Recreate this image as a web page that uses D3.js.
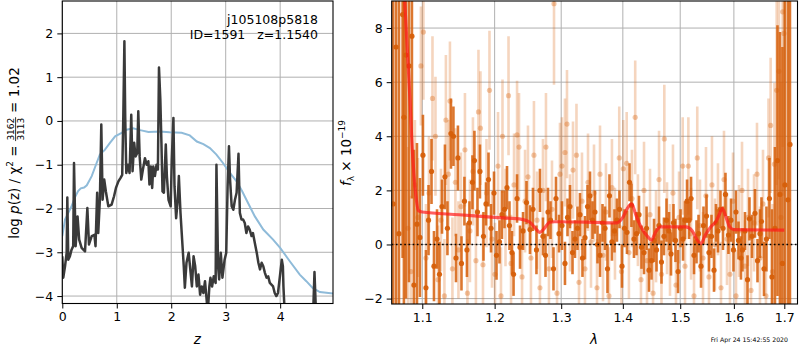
<!DOCTYPE html>
<html>
<head>
<meta charset="utf-8">
<script src="https://cdn.jsdelivr.net/npm/d3@7"></script>
<style>
body{margin:0;background:#fff;}
svg{font-family:"DejaVu Sans",sans-serif;}
</style>
</head>
<body>
<div id="chart"></div>
<script>
// ---- data ----
// left panel: log p(z) (dark jagged line) and the smooth blue curve
const pzLine = [[0,-3.09],[0.018,-3.58],[0.05,-3.32],[0.08,-3.01],[0.092,-1.75],[0.11,-3.17],[0.14,-3.09],[0.17,-2.94],[0.2,-2.86],[0.215,-0.96],
  [0.245,-2.86],[0.28,-2.18],[0.31,-2.71],[0.355,-2.9],[0.417,-2.98],[0.46,-1.99],[0.49,-2.82],[0.54,-2.63],[0.59,-2.6],[0.61,-2.86],
  [0.64,-1.64],[0.66,-2.56],[0.69,-1.8],[0.716,-0.08],[0.74,-1.8],[0.77,-1.34],[0.8,-1.61],[0.845,-1.95],[0.905,-1.91],[0.95,-1.72],
  [0.985,-1.53],[1.03,-1.38],[1.07,-1.3],[1.1,-1.23],[1.12,0.1],[1.14,1.82],[1.155,0.1],[1.175,-1.19],[1.205,-1.0],[1.235,-1.19],
  [1.266,0.14],[1.29,-1.15],[1.32,-0.5],[1.345,-0.81],[1.376,-0.73],[1.395,0.22],[1.42,-0.81],[1.45,-1.34],[1.48,-1.11],[1.517,-0.85],
  [1.55,-1.0],[1.58,-0.92],[1.6,-1.45],[1.625,-1.04],[1.65,-1.53],[1.67,-1.04],[1.7,-1.26],[1.73,-1.0],[1.755,-1.11],[1.775,1.22],
  [1.8,0.49],[1.82,-0.5],[1.84,-1.61],[1.865,-1.64],[1.9,-0.54],[1.92,-1.26],[1.95,-1.8],[1.99,-1.95],[2.01,-0.88],[2.04,0.07],
  [2.06,-1.49],[2.09,-2.22],[2.12,-1.8],[2.14,-1.26],[2.17,-2.1],[2.2,-2.71],[2.23,-3.32],[2.25,-3.81],[2.28,-3.24],[2.32,-3.01],
  [2.35,-3.39],[2.38,-3.78],[2.41,-3.09],[2.44,-3.32],[2.47,-3.78],[2.5,-3.51],[2.53,-3.97],[2.56,-3.78],[2.59,-3.93],[2.62,-3.66],
  [2.65,-4.08],[2.67,-4.4],[2.7,-3.78],[2.72,-3.58],[2.75,-3.78],[2.78,-3.55],[2.815,-3.7],[2.83,-1.0],[2.86,-3.32],[2.88,-3.62],
  [2.91,-3.01],[2.94,-3.58],[2.98,-3.17],[3.01,-3.01],[3.035,-1.49],[3.06,-0.58],[3.08,-1.34],[3.11,-1.95],[3.14,-2.03],[3.17,-1.8],
  [3.2,-1.64],[3.235,-0.75],[3.26,-2.1],[3.29,-2.25],[3.32,-2.25],[3.35,-2.33],[3.38,-2.56],[3.41,-2.41],[3.44,-2.48],[3.475,-2.63],
  [3.5,-2.56],[3.535,-2.79],[3.57,-3.01],[3.6,-3.24],[3.63,-3.39],[3.66,-3.24],[3.69,-3.32],[3.72,-3.47],[3.75,-3.58],[3.78,-3.55],
  [3.81,-3.7],[3.84,-3.74],[3.87,-3.78],[3.9,-3.93],[3.93,-4.0],[3.96,-3.93],[3.995,-3.55],[4.03,-3.17],[4.05,-3.32],[4.06,-3.78],
  [4.08,-4.3],[4.12,-4.8],[4.3,-5.2],[4.5,-5.0],[4.6,-4.6],[4.63,-3.45],[4.655,-4.3],[4.7,-4.9],[4.97,-5.2]];
const priorLine = [[0,-2.63],[0.05,-2.25],[0.11,-2.1],[0.17,-1.95],[0.23,-1.75],[0.29,-1.6],[0.34,-1.54],[0.4,-1.52],[0.45,-1.47],[0.54,-1.26],
  [0.63,-0.96],[0.69,-0.77],[0.78,-0.66],[0.875,-0.5],[0.97,-0.35],[1.09,-0.27],[1.18,-0.2],[1.3,-0.17],[1.43,-0.21],[1.58,-0.25],
  [1.79,-0.24],[1.97,-0.26],[2.19,-0.27],[2.34,-0.33],[2.47,-0.47],[2.59,-0.53],[2.71,-0.62],[2.83,-0.77],[2.95,-0.96],[3.08,-1.19],
  [3.2,-1.38],[3.3,-1.6],[3.38,-1.8],[3.535,-2.18],[3.69,-2.48],[3.87,-2.71],[4.0,-2.9],[4.18,-3.21],[4.36,-3.51],[4.48,-3.66],
  [4.6,-3.82],[4.73,-3.91],[4.97,-3.94]];
const zTicks = [0,1,2,3,4];
const pTicks = [-4,-3,-2,-1,0,1,2];

// right panel: spectrum points [lambda, flux, error]
const darkSpec = [[1.0620,1.5,11],[1.0658,7.3,10],[1.0696,0.4,12],[1.0743,8.5,9],[1.0760,4.7,10],[1.0786,7.0,9],[1.0825,6.6,8],[1.0864,7.7,6],[1.0890,-1.5,5],[1.0930,0.75,3],
  [1.0969,0.26,2.2],[1.1009,3.3,1.5],[1.1049,-1.6,1.4],[1.1083,0.9,1.3],[1.1123,2.7,1.2],[1.1156,-0.8,1.3],[1.1197,0.2,1.1],[1.1230,-1.1,1.2],[1.1264,1.4,1.0],[1.1304,2.5,1.2],
  [1.1338,0.6,1.0],[1.1386,4.1,1.3],[1.1420,4.0,1.1],[1.1455,-0.5,0.9],[1.1482,3.2,1.2],[1.1531,-0.7,1.0],[1.1572,1.6,0.9],[1.1607,-0.2,1.0],[1.1642,0.8,0.8],[1.1684,2.3,1.0],
  [1.1712,3.1,1.1],[1.1755,1.2,0.9],[1.1790,2.7,1.0],[1.1840,0.3,0.9],[1.1876,1.5,0.8],[1.1912,2.4,1.0],[1.1948,0.6,0.9],[1.1991,1.9,0.8],[1.2027,-0.4,0.9],[1.2070,0.1,0.8],
  [1.2106,1.1,0.9],[1.2143,1.3,0.7],[1.2180,2.1,0.8],[1.2216,0.7,0.9],[1.2253,-0.3,0.8],[1.2276,-1.1,0.8],[1.2328,1.7,0.9],[1.2372,-0.1,0.8],[1.2417,0.5,0.7],[1.2469,1.55,0.8],
  [1.2521,0.55,0.9],[1.2566,1.3,0.8],[1.2619,-0.2,0.9],[1.2672,2.0,0.8],[1.2718,0.3,0.7],[1.2757,-0.4,0.8],[1.2795,1.2,0.9],[1.2834,0.9,0.7],[1.2880,-0.9,0.8],[1.2919,1.7,0.8],
  [1.2966,0.4,0.7],[1.3012,0.7,0.9],[1.3059,-0.7,0.8],[1.3099,1.0,0.7],[1.3138,1.4,0.8],[1.3178,-0.3,0.8],[1.3217,0.2,0.7],[1.3257,0.6,0.8],[1.3297,1.1,0.8],[1.3337,-0.5,0.7],
  [1.3377,0.25,0.8],[1.3418,1.4,0.8],[1.3458,1.8,0.9],[1.3499,0.9,0.7],[1.3539,1.2,0.8],[1.3580,0.0,0.7],[1.3621,-0.4,0.8],[1.3662,0.8,0.7],[1.3703,0.6,0.8],[1.3744,-0.9,0.9],
  [1.3777,1.8,0.8],[1.3818,0.1,0.7],[1.3860,0.5,0.8],[1.3901,0.9,0.8],[1.3944,1.3,0.7],[1.3986,-0.8,0.8],[1.4028,0.6,0.7],[1.4070,0.45,0.8],[1.4113,2.3,0.7],[1.4146,1.45,0.8],
  [1.4189,0.2,0.7],[1.4232,0.4,0.8],[1.4275,1.1,0.7],[1.4318,-0.1,0.8],[1.4361,-0.3,0.8],[1.4405,0.6,0.8],[1.4448,-0.95,0.8],[1.4491,-0.6,0.7],[1.4535,0.15,0.8],[1.4579,-0.2,0.8],
  [1.4622,0.7,0.7],[1.4666,-0.65,0.8],[1.4710,0.3,0.7],[1.4755,0.9,0.8],[1.4799,0.5,0.7],[1.4835,-0.35,0.8],[1.4879,0.8,0.7],[1.4915,0.15,0.8],[1.4961,-1.0,0.8],[1.5006,0.6,0.7],
  [1.5051,0.2,0.8],[1.5087,0.9,0.7],[1.5124,1.6,0.8],[1.5160,0.9,0.7],[1.5197,1.7,0.8],[1.5251,-0.4,0.7],[1.5297,0.1,0.8],[1.5334,0.4,0.7],[1.5380,-0.8,0.8],[1.5426,0.7,0.7],
  [1.5482,1.05,0.8],[1.5528,-0.3,0.7],[1.5575,0.3,0.8],[1.5622,-0.95,0.8],[1.5659,0.8,0.7],[1.5697,0.5,0.8],[1.5744,1.3,0.7],[1.5792,0.6,0.8],[1.5839,1.85,0.8],[1.5896,0.35,0.7],
  [1.5944,0.9,0.8],[1.5992,-0.2,0.8],[1.6040,1.2,0.8],[1.6089,0.15,0.7],[1.6137,-0.5,0.8],[1.6166,-0.2,0.8],[1.6215,0.5,0.7],[1.6264,-1.3,0.9],[1.6303,0.95,0.8],[1.6352,0.3,0.8],
  [1.6411,1.15,0.9],[1.6461,-0.6,0.8],[1.6510,0.4,0.9],[1.6540,0.85,0.9],[1.6590,-0.9,1.0],[1.6639,0.2,1.2],[1.6699,1.7,1.5],[1.6750,-1.2,2.5],[1.6810,0.6,3],[1.6861,3.1,5],
  [1.6911,1.85,6],[1.6962,-0.7,8],[1.7013,2.2,10],[1.7075,1.65,10],[1.7116,3.7,12]];
const lightSpec = [[1.0812,0.6,3.0],[1.0851,-1.0,2.8],[1.0903,2.2,2.4],[1.0943,1.0,2.2],[1.0982,6.6,2.2],[1.1015,7.85,2.5],[1.1049,-0.5,2.0],[1.1089,1.9,2.1],[1.1136,5.4,2.3],[1.1176,4.0,2.2],
  [1.1210,-1.3,2.0],[1.1250,0.9,1.9],[1.1297,-1.9,2.1],[1.1317,4.6,2.4],[1.1351,2.6,2.0],[1.1372,5.3,2.2],[1.1406,-0.9,1.9],[1.1447,2.3,2.0],[1.1489,-0.2,1.8],[1.1524,1.4,2.0],
  [1.1579,3.5,2.1],[1.1614,-1.8,2.0],[1.1649,0.5,1.9],[1.1691,2.7,2.0],[1.1733,-0.6,1.9],[1.1769,4.9,2.3],[1.1797,4.3,2.1],[1.1833,-0.75,1.9],[1.1883,1.9,2.0],[1.1926,5.7,2.2],
  [1.1962,0.2,1.8],[1.2005,-1.1,1.9],[1.2049,2.9,2.0],[1.2092,-1.9,1.8],[1.2114,4.0,2.1],[1.2158,1.0,1.8],[1.2202,5.5,2.2],[1.2239,-0.7,1.8],[1.2283,2.2,1.9],[1.2328,4.05,2.0],
  [1.2357,3.6,2.0],[1.2402,-1.2,1.8],[1.2447,1.6,1.9],[1.2491,2.5,1.9],[1.2536,-0.5,1.8],[1.2581,3.3,2.0],[1.2627,0.9,1.8],[1.2672,-1.6,1.8],[1.2718,2.0,1.9],[1.2764,3.6,2.0],
  [1.2810,-0.9,1.8],[1.2857,1.3,1.8],[1.2888,8.9,3.0],[1.2935,-1.8,1.8],[1.2981,2.6,1.9],[1.3012,2.9,1.8],[1.3059,3.4,2.0],[1.3091,4.45,2.0],[1.3138,0.8,1.8],[1.3186,2.75,1.8],
  [1.3241,3.3,1.9],[1.3281,-1.4,1.8],[1.3329,1.6,1.8],[1.3377,-0.9,1.7],[1.3426,2.3,1.8],[1.3474,0.1,1.7],[1.3523,1.9,1.8],[1.3572,-1.6,1.8],[1.3621,2.6,1.8],[1.3670,-0.4,1.7],
  [1.3719,1.2,1.8],[1.3769,-1.9,1.8],[1.3818,2.1,1.8],[1.3868,0.4,1.7],[1.3940,3.2,1.9],[1.3977,-1.0,1.7],[1.4008,2.8,1.8],[1.4065,3.0,1.9],[1.4103,-0.3,1.7],[1.4155,1.7,1.8],
  [1.4210,4.7,2.1],[1.4256,0.9,1.7],[1.4309,-1.3,1.7],[1.4361,2.0,1.8],[1.4413,-0.6,1.7],[1.4465,1.1,1.7],[1.4518,-1.8,1.8],[1.4570,0.3,1.7],[1.4623,2.4,1.8],[1.4666,-1.1,1.7],
  [1.4716,3.9,2.0],[1.4764,0.6,1.7],[1.4817,-0.2,1.7],[1.4870,1.9,1.8],[1.4924,-1.5,1.7],[1.4979,1.0,1.7],[1.5045,2.9,1.8],[1.5087,-0.8,1.7],[1.5148,2.9,1.8],[1.5197,0.4,1.7],
  [1.5251,-1.9,1.8],[1.5311,3.2,1.9],[1.5361,0.7,1.7],[1.5417,-0.5,1.7],[1.5472,1.8,1.8],[1.5528,-1.2,1.7],[1.5584,2.2,1.8],[1.5640,0.0,1.7],[1.5697,1.3,1.7],[1.5754,-1.6,1.7],
  [1.5811,2.4,1.8],[1.5868,0.2,1.7],[1.5925,-1.1,1.7],[1.5983,1.6,1.8],[1.6041,-1.9,1.7],[1.6099,0.5,1.7],[1.6157,2.0,1.8],[1.6215,-0.8,1.7],[1.6274,1.0,1.8],[1.6333,-1.7,1.8],
  [1.6392,0.8,1.8],[1.6451,2.6,1.9],[1.6510,-0.5,1.9],[1.6570,1.5,2.0],[1.6629,-1.9,2.0],[1.6680,3.2,2.2],[1.6723,4.4,2.5],[1.6760,-1.0,2.5],[1.6800,2.97,3],[1.6845,5.7,3.5],
  [1.6891,6.4,4],[1.6931,1.0,5],[1.6966,8.6,5],[1.6992,7.8,6]];
const modelLine = [[1.075,9.8],[1.077,9.0],[1.080,7.4],[1.084,5.3],[1.086,4.0],[1.089,2.6],[1.092,1.7],[1.095,1.25],[1.10,1.2],[1.15,1.1],
  [1.2,1.0],[1.24,0.93],[1.252,0.82],[1.262,0.55],[1.267,0.45],[1.274,0.6],[1.282,0.82],[1.29,0.84],[1.35,0.82],[1.39,0.8],
  [1.40,1.0],[1.408,1.35],[1.415,1.5],[1.422,1.1],[1.432,0.6],[1.442,0.3],[1.449,0.16],[1.456,0.45],[1.465,0.65],[1.51,0.65],
  [1.522,0.5],[1.53,0.2],[1.538,0.04],[1.546,0.35],[1.556,0.65],[1.566,0.85],[1.572,1.1],[1.578,1.34],[1.585,1.0],[1.592,0.65],
  [1.60,0.55],[1.70,0.53]];
const lamTicks = [1.1,1.2,1.3,1.4,1.5,1.6,1.7];
const fluxTicks = [-2,0,2,4,6,8];

// ---- canvas ----
const svg = d3.select('#chart').append('svg').attr('width',800).attr('height',350);
const FS = 12.5;
const boxL = {x0:62.3, x1:333, y0:1, y1:303.5};
const boxR = {x0:391.7, x1:797.5, y0:1, y1:304};

const xZ = d3.scaleLinear().domain([0,4.97]).range([boxL.x0,boxL.x1]);
const yP = d3.scaleLinear().domain([-4.17,2.74]).range([boxL.y1,boxL.y0]);
const xL = d3.scaleLog().domain([1.0603,1.7272]).range([boxR.x0,boxR.x1]);
const yF = d3.scaleLinear().domain([-2.2,9.0]).range([boxR.y1,boxR.y0]);

const defs = svg.append('defs');
[['clipL',boxL],['clipR',boxR]].forEach(([id,b]) => {
  defs.append('clipPath').attr('id',id).append('rect')
    .attr('x',b.x0).attr('y',b.y0).attr('width',b.x1-b.x0).attr('height',b.y1-b.y0);
});

// grid lines
function grid(b, xs, ys, xt, yt) {
  const g = svg.append('g').attr('stroke','#b0b0b0').attr('stroke-width',1);
  g.selectAll('.gx').data(xt).enter().append('line')
    .attr('x1',d=>xs(d)).attr('x2',d=>xs(d)).attr('y1',b.y0).attr('y2',b.y1);
  g.selectAll('.gy').data(yt).enter().append('line')
    .attr('y1',d=>ys(d)).attr('y2',d=>ys(d)).attr('x1',b.x0).attr('x2',b.x1);
}
grid(boxL, xZ, yP, zTicks, pTicks);
grid(boxR, xL, yF, lamTicks, fluxTicks);

// ---- left panel lines ----
const gL = svg.append('g').attr('clip-path','url(#clipL)');
const lineZ = d3.line().x(d=>xZ(d[0])).y(d=>yP(d[1]));
gL.append('path').datum(priorLine).attr('d',lineZ)
  .attr('fill','none').attr('stroke','#8fbbd9').attr('stroke-width',2);
gL.append('path').datum(pzLine).attr('d',lineZ)
  .attr('fill','none').attr('stroke','#3a3a3a').attr('stroke-width',2.5).attr('stroke-linejoin','round');

// ---- right panel spectrum ----
const gR = svg.append('g').attr('clip-path','url(#clipR)');
function spectrum(data, col, barOp, dotOp) {
  const g = gR.append('g');
  g.selectAll('line').data(data).enter().append('line')
    .attr('x1',d=>xL(d[0])).attr('x2',d=>xL(d[0]))
    .attr('y1',d=>yF(d[1]-d[2])).attr('y2',d=>yF(d[1]+d[2]))
    .attr('stroke',col).attr('stroke-width',2.6).attr('stroke-opacity',barOp);
  g.selectAll('circle').data(data).enter().append('circle')
    .attr('cx',d=>xL(d[0])).attr('cy',d=>yF(d[1])).attr('r',2.6)
    .attr('fill',col).attr('fill-opacity',dotOp);
}
spectrum(lightSpec, '#d9650f', 0.27, 0.35);
spectrum(darkSpec, '#d65f0a', 0.85, 0.95);

gR.append('path').datum(modelLine)
  .attr('d',d3.line().x(d=>xL(d[0])).y(d=>yF(d[1])).curve(d3.curveMonotoneX))
  .attr('fill','none').attr('stroke','#ff1a1a').attr('stroke-opacity',0.7)
  .attr('stroke-width',3.2).attr('stroke-linejoin','round');

gR.append('line').attr('x1',boxR.x0).attr('x2',boxR.x1).attr('y1',yF(0)).attr('y2',yF(0))
  .attr('stroke','#000').attr('stroke-width',1.6).attr('stroke-dasharray','1.6,2.6');

// ---- axes ----
function axes(b, xs, ys, xt, yt, xf) {
  const ax = svg.append('g').attr('transform',`translate(0,${b.y1})`)
    .call(d3.axisBottom(xs).tickValues(xt).tickFormat(xf).tickSize(5).tickPadding(4));
  const ay = svg.append('g').attr('transform',`translate(${b.x0},0)`)
    .call(d3.axisLeft(ys).tickValues(yt).tickFormat(d3.format('d')).tickSize(5).tickPadding(4));
  [ax,ay].forEach(a => {
    a.attr('font-family',null).attr('font-size',null);
    a.select('.domain').remove();
    a.selectAll('.tick line').attr('stroke','#000').attr('stroke-width',1);
    a.selectAll('.tick text').attr('font-size',FS).attr('fill','#000');
  });
  svg.append('rect').attr('x',b.x0).attr('y',b.y0).attr('width',b.x1-b.x0).attr('height',b.y1-b.y0)
    .attr('fill','none').attr('stroke','#000').attr('stroke-width',1.1);
}
axes(boxL, xZ, yP, zTicks, pTicks, d3.format('d'));
axes(boxR, xL, yF, lamTicks, fluxTicks, d3.format('.1f'));

// ---- texts ----
svg.append('text').attr('x',318).attr('y',24).attr('text-anchor','end').attr('font-size',FS).text('j105108p5818');
svg.append('text').attr('x',318).attr('y',38.5).attr('text-anchor','end').attr('font-size',FS)
  .style('white-space','pre').text('ID=1591   z=1.1540');

svg.append('text').attr('x',xZ(2.48)).attr('y',344).attr('text-anchor','middle')
  .attr('font-size',FS+1).attr('font-style','italic').text('z');
svg.append('text').attr('x',594).attr('y',344).attr('text-anchor','middle')
  .attr('font-size',FS+1).attr('font-style','italic').text('λ');

// left y label with the chi2 fraction
const yl = svg.append('g');
const t1 = yl.append('text').attr('font-size',FS+1);
t1.append('tspan').text('log ');
t1.append('tspan').attr('font-style','italic').text('p');
t1.append('tspan').text('(z) / χ');
t1.append('tspan').attr('font-size',9).attr('dy',-5.5).text('2');
t1.append('tspan').attr('dy',5.5).style('white-space','pre').text(' = ');
const w1 = t1.node().getComputedTextLength();
const num = yl.append('text').attr('font-size',9).attr('y',-4.2).attr('text-anchor','middle').text('3162');
const fw = num.node().getComputedTextLength() + 1;
num.attr('x',w1+fw/2);
yl.append('text').attr('font-size',9).attr('x',w1+fw/2).attr('y',5.2).attr('text-anchor','middle').text('3113');
yl.append('line').attr('x1',w1).attr('x2',w1+fw).attr('y1',-2.9).attr('y2',-2.9).attr('stroke','#000').attr('stroke-width',0.8);
const t3 = yl.append('text').attr('font-size',FS+1).attr('x',w1+fw).style('white-space','pre').text(' = 1.02');
const total = w1 + fw + t3.node().getComputedTextLength();
yl.attr('transform',`translate(18.5,153) rotate(-90) translate(${-total/2},0)`);

// right y label
const yr = svg.append('text').attr('transform','translate(350.5,153) rotate(-90)')
  .attr('text-anchor','middle').attr('font-size',FS+1);
yr.append('tspan').attr('font-style','italic').text('f');
yr.append('tspan').attr('font-size',9).attr('dy',3).text('λ');
yr.append('tspan').attr('dy',-3).style('white-space','pre').text(' × 10');
yr.append('tspan').attr('font-size',9).attr('dy',-5.5).text('−19');

// timestamp
svg.append('text').attr('x',788).attr('y',341.5).attr('text-anchor','end')
  .attr('font-size',6.2).text('Fri Apr 24 15:42:55 2020');
</script>
</body>
</html>
